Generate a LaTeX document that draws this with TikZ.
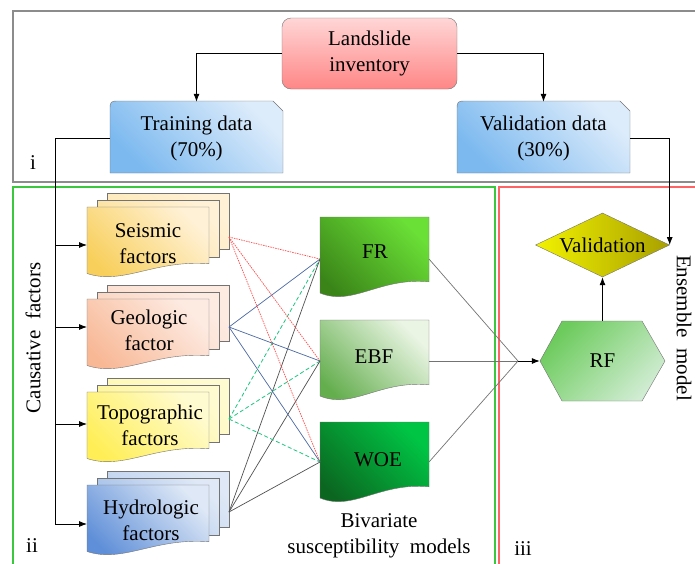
\documentclass[tikz,border=0pt]{standalone}
\usepackage{fontspec}
\setmainfont{Liberation Serif}
\usetikzlibrary{arrows.meta,shapes.geometric}

% fills
\definecolor{landtop}{HTML}{FFD6D6}
\definecolor{landbot}{HTML}{FF8686}
\definecolor{datalight}{HTML}{DDECFB}
\definecolor{datadark}{HTML}{7CB9EF}
\definecolor{seislight}{HTML}{FFF1D6}
\definecolor{seisdark}{HTML}{F8CF5A}
\definecolor{geolight}{HTML}{FDEBE2}
\definecolor{geodark}{HTML}{F8B896}
\definecolor{topolight}{HTML}{FFFBD0}
\definecolor{topodark}{HTML}{FFEE55}
\definecolor{hydrolight}{HTML}{DEE8F6}
\definecolor{hydrodark}{HTML}{5F8FD8}
\definecolor{frlight}{HTML}{6ADF36}
\definecolor{frdark}{HTML}{3A8418}
\definecolor{ebflight}{HTML}{EAF5E4}
\definecolor{ebfdark}{HTML}{64AE4E}
\definecolor{woelight}{HTML}{00C444}
\definecolor{woedark}{HTML}{0B6620}
\definecolor{rfdark}{HTML}{6CCB5C}
\definecolor{rflight}{HTML}{D0ECD2}
\definecolor{valyellow}{HTML}{F2F200}
\definecolor{valolive}{HTML}{A8A000}
% frames and connectors
\definecolor{panelgray}{HTML}{8C8C8C}
\definecolor{panelgreen}{HTML}{3CC83C}
\definecolor{panelred}{HTML}{FF6464}
\definecolor{seisline}{HTML}{FF4D4D}
\definecolor{geoline}{HTML}{4A68A2}
\definecolor{topoline}{HTML}{1DC57F}
\definecolor{hydroline}{HTML}{505050}

% document sheet with a wavy lower edge: x, y, width, height, light, dark
\newcommand{\docshape}[6]{%
  \shade[draw=black!55, top color=#5, bottom color=#6, shading angle=-45]
    (#1,#2) -- ({#1+#3},#2) -- ({#1+#3},{#2+0.81*#4})
    .. controls ({#1+0.55*#3},{#2+0.75*#4}) and ({#1+0.3*#3},{#2+1.12*#4}) ..
    (#1,{#2+0.95*#4}) -- cycle;}
% three stacked sheets, front sheet at x, y
\newcommand{\docstack}[4]{%
  \shade[draw=black!55, top color=#3, bottom color=#3!75!#4, shading angle=-45]
    ({#1+20},{#2-14}) rectangle ({#1+142},{#2+42});
  \shade[draw=black!55, top color=#3, bottom color=#3!50!#4, shading angle=-45]
    ({#1+10},{#2-7}) rectangle ({#1+132},{#2+50});
  \docshape{#1}{#2}{122}{70}{#3}{#4}}
% data box, rounded top left and cut top right
\newcommand{\datashape}[4]{%
  \shade[draw=black!55, top color=datalight, bottom color=datadark, shading angle=-45]
    (#1,{#2+#4}) -- (#1,{#2+10}) .. controls (#1,#2) .. ({#1+10},#2)
    -- ({#1+#3-10},#2) -- ({#1+#3},{#2+10}) -- ({#1+#3},{#2+#4}) -- cycle;}

\begin{document}
\begin{tikzpicture}[x=1pt, y=-1pt,
    every node/.style={font=\fontsize{21}{26}\selectfont, inner sep=0pt, align=center},
    land/.style={draw=black!55, rounded corners=9pt, top color=landtop, bottom color=landbot,
      minimum width=175pt, minimum height=71pt},
    databox/.style={minimum width=173pt, minimum height=72pt},
    flow/.style={draw=black, line width=0.8pt, -{Latex[length=8pt,width=6pt]}},
    bus/.style={draw=black, line width=0.8pt},
    gline/.style={draw=black!55, line width=0.7pt},
    seisedge/.style={draw=seisline, line width=0.7pt, dash pattern=on 1.5pt off 1pt},
    geoedge/.style={draw=geoline, line width=0.7pt},
    topoedge/.style={draw=topoline, line width=0.8pt, dash pattern=on 4pt off 2.5pt},
    hydroedge/.style={draw=hydroline, line width=0.7pt}]
    \useasboundingbox (0,0) rectangle (695,563);

    % Panel frames (i, ii, iii)
    \draw[panelgray, line width=1.3pt] (13,11) rectangle (720,182);
    \draw[panelgreen, line width=1.1pt] (13,187) rectangle (495,580);
    \draw[panelred, line width=1.1pt] (499,187) rectangle (720,580);
    \node (pi) at (33,163) {i};
    \node (pii) at (32,546) {ii};
    \node (piii) at (523,549) {iii};

    % Inventory and data split
    \node[land] (land) at (369.5,53.5) {Landslide\\inventory};
    \datashape{110}{101}{173}{72}
    \datashape{457}{101}{173}{72}
    \node[databox] (train) at (196.5,138) {Training data\\(70\%)};
    \node[databox] (valid) at (543.5,138) {Validation data\\(30\%)};
    \draw[flow] (land.west) -| (train.north);
    \draw[flow] (land.east) -| (valid.north);

    % Causative factor stacks
    \docstack{87}{207}{seislight}{seisdark}
    \docstack{87}{299}{geolight}{geodark}
    \docstack{87}{392}{topolight}{topodark}
    \docstack{87}{485}{hydrolight}{hydrodark}
    \node (seis) at (148,244) {Seismic\\factors};
    \node (geo) at (149,330) {Geologic\\factor};
    \node (topo) at (150,425) {Topographic\\factors};
    \node (hydro) at (151,520) {Hydrologic\\factors};
    \node[rotate=90] (causes) at (33,338) {Causative\ \ factors};

    % ends of the connectors on the sheets
    \coordinate (seis-in) at (87,245);
    \coordinate (geo-in) at (87,327);
    \coordinate (topo-in) at (87,424);
    \coordinate (hydro-in) at (87,524);
    \coordinate (seis-out) at (229,237);
    \coordinate (geo-out) at (229,327);
    \coordinate (topo-out) at (229,419);
    \coordinate (hydro-out) at (229,512);

    % Training data feeds every factor
    \coordinate (bus) at (55,138);
    \draw[bus] (train.west) -- (bus);
    \draw[flow] (bus) |- (hydro-in);
    \draw[flow] (bus |- seis-in) -- (seis-in);
    \draw[flow] (bus |- geo-in) -- (geo-in);
    \draw[flow] (bus |- topo-in) -- (topo-in);

    % Bivariate models
    \docshape{320}{217}{109}{80}{frlight}{frdark}
    \docshape{320}{320}{109}{80}{ebflight}{ebfdark}
    \docshape{320}{422}{109}{80}{woelight}{woedark}
    \node (fr) at (375,252) {FR};
    \node (ebf) at (374,357) {EBF};
    \node (woe) at (378,460) {WOE};
    \node (bivar) at (379,536) {Bivariate\\susceptibility\ \ models};
    \coordinate (fr-in) at (320,259);
    \coordinate (ebf-in) at (320,361);
    \coordinate (woe-in) at (320,462);
    \coordinate (fr-out) at (429,259);
    \coordinate (ebf-out) at (429,361);
    \coordinate (woe-out) at (429,462);

    % every factor goes into every model
    \foreach \m in {fr-in,ebf-in,woe-in}{
        \draw[seisedge] (seis-out) -- (\m);
        \draw[geoedge] (geo-out) -- (\m);
        \draw[topoedge] (topo-out) -- (\m);
        \draw[hydroedge] (hydro-out) -- (\m);
    }

    % Ensemble and validation
    \shade[draw=black!55, top color=rfdark, bottom color=rflight, shading angle=45]
        (540,361) -- (562,321) -- (642,321) -- (665,361) -- (642,401) -- (562,401) -- cycle;
    \node[minimum width=125pt, minimum height=80pt] (rf) at (602.5,361) {RF};
    \node[diamond, draw=black!55, left color=valyellow, middle color=valyellow,
        right color=valolive, aspect=2.1,
        minimum width=134pt, minimum height=64pt] (check) at (602.5,245) {Validation};
    \node[rotate=-90] (ensemble) at (684,328) {Ensemble\ \ model};

    \coordinate (merge) at (518,361);
    \draw[gline] (fr-out) -- (merge);
    \draw[gline] (woe-out) -- (merge);
    \draw[gline] (ebf-out) -- (merge);
    \draw[flow] (merge) -- (rf.west);
    \draw[flow] (rf.north) -- (check.south);
    \draw[flow] (valid.east) -| (check.east);
\end{tikzpicture}
\end{document}
